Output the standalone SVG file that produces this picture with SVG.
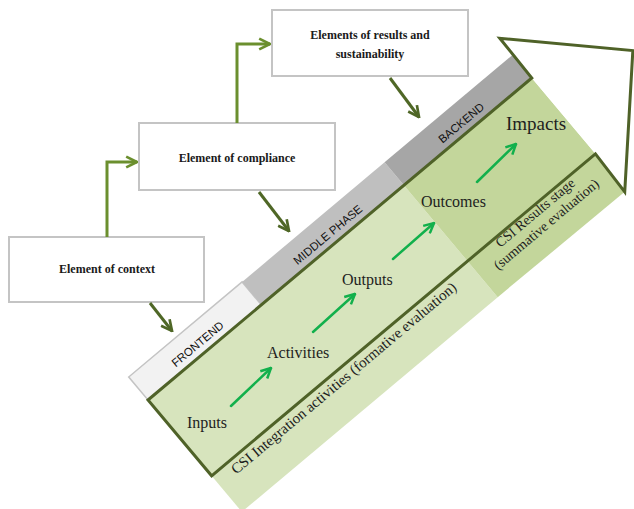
<svg xmlns="http://www.w3.org/2000/svg" width="634" height="509" viewBox="0 0 634 509">
<defs>
<style>
.box{fill:#ffffff;stroke:#c4c4c4;stroke-width:2}
.btxt{font-family:"Liberation Serif",serif;font-weight:bold;font-size:12px;fill:#1a1a1a;text-anchor:middle}
.elbow{fill:none;stroke:#6b8f2e;stroke-width:3;stroke-linejoin:miter}
.diag{fill:none;stroke:#4f6726;stroke-width:3}
.garrow{fill:none;stroke:#12b04c;stroke-width:2.5;stroke-linecap:round}
.phase{font-family:"Liberation Sans",sans-serif;font-size:11.5px;fill:#111111;text-anchor:middle}
.stage{font-family:"Liberation Serif",serif;font-size:16px;fill:#1e1e1e}
.csi{font-family:"Liberation Serif",serif;font-size:14px;fill:#1e1e1e;text-anchor:middle}
</style>
<marker id="ahE" viewBox="0 0 10 10" refX="9" refY="5" markerWidth="4.5" markerHeight="4.5" orient="auto" markerUnits="strokeWidth">
<path d="M1,1 L9,5 L1,9" fill="none" stroke="#6b8f2e" stroke-width="2"/>
</marker>
<marker id="ahD" viewBox="0 0 10 10" refX="9" refY="5" markerWidth="4.5" markerHeight="4.5" orient="auto" markerUnits="strokeWidth">
<path d="M1,1 L9,5 L1,9" fill="none" stroke="#4f6726" stroke-width="2"/>
</marker>
<marker id="ahG" viewBox="0 0 10 10" refX="9" refY="5" markerWidth="5" markerHeight="5" orient="auto" markerUnits="strokeWidth">
<path d="M1,1 L9,5 L1,9" fill="none" stroke="#12b04c" stroke-width="2"/>
</marker>
</defs>
<rect width="634" height="509" fill="#ffffff"/>

<g id="big-arrow" transform="translate(148,400) rotate(-40)">
  <rect x="0" y="-30" width="148" height="30" fill="#f2f2f2" stroke="#c4c4c4" stroke-width="1.5"/>
  <rect x="148" y="-30" width="186" height="30" fill="#bfbfbf"/>
  <rect x="334" y="-30" width="167" height="30" fill="#a6a6a6"/>
  <rect x="0" y="0" width="334" height="146" fill="#d7e4bd"/>
  <polygon points="334,0 501,0 501,99 499,147 334,146" fill="#c3d69b"/>
  <polygon points="502,-51 596,44 499,147 501,99 501,0" fill="#ffffff"/>
  <polygon points="0,0 501,0 502,-51 596,44 499,147 501,99 0,99" fill="none" stroke="#4f6228" stroke-width="3" stroke-linejoin="miter"/>
  <text class="phase" x="74" y="-7">FRONTEND</text>
  <text class="phase" x="244" y="-7">MIDDLE PHASE</text>
  <text class="phase" x="418" y="-7">BACKEND</text>
  <text class="csi" x="164" y="114" style="font-size:15px">CSI Integration activities (formative evaluation)</text>
  <text class="csi" x="417" y="110">CSI Results stage</text>
  <text class="csi" x="418" y="126">(summative evaluation)</text>
</g>

<g id="stages">
  <text class="stage" x="187" y="428">Inputs</text>
  <text class="stage" x="267" y="358">Activities</text>
  <text class="stage" x="342" y="285">Outputs</text>
  <text class="stage" x="421" y="207">Outcomes</text>
  <text class="stage" x="506" y="130" style="font-size:19px">Impacts</text>
</g>

<g id="node-context">
  <rect class="box" x="9" y="237" width="195" height="65"/>
  <text class="btxt" x="107" y="273">Element of context</text>
</g>
<g id="node-compliance">
  <rect class="box" x="139" y="123" width="196" height="67"/>
  <text class="btxt" x="237" y="162">Element of compliance</text>
</g>
<g id="node-results">
  <rect class="box" x="272" y="10" width="196" height="66"/>
  <text class="btxt" x="370" y="39">Elements of results and</text>
  <text class="btxt" x="370" y="58">sustainability</text>
</g>

<g id="connectors">
  <path class="elbow" d="M107,237 V162 H137" marker-end="url(#ahE)"/>
  <path class="elbow" d="M237,123 V44 H270" marker-end="url(#ahE)"/>
  <line class="diag" x1="150" y1="303" x2="172" y2="331" marker-end="url(#ahD)"/>
  <line class="diag" x1="259" y1="192" x2="289" y2="231" marker-end="url(#ahD)"/>
  <line class="diag" x1="390" y1="78" x2="419" y2="117" marker-end="url(#ahD)"/>
  <line class="garrow" x1="231" y1="406" x2="271" y2="368" marker-end="url(#ahG)"/>
  <line class="garrow" x1="313" y1="332" x2="355" y2="294" marker-end="url(#ahG)"/>
  <line class="garrow" x1="393" y1="259" x2="434" y2="223" marker-end="url(#ahG)"/>
  <line class="garrow" x1="477" y1="182" x2="516" y2="144" marker-end="url(#ahG)"/>
</g>
</svg>
